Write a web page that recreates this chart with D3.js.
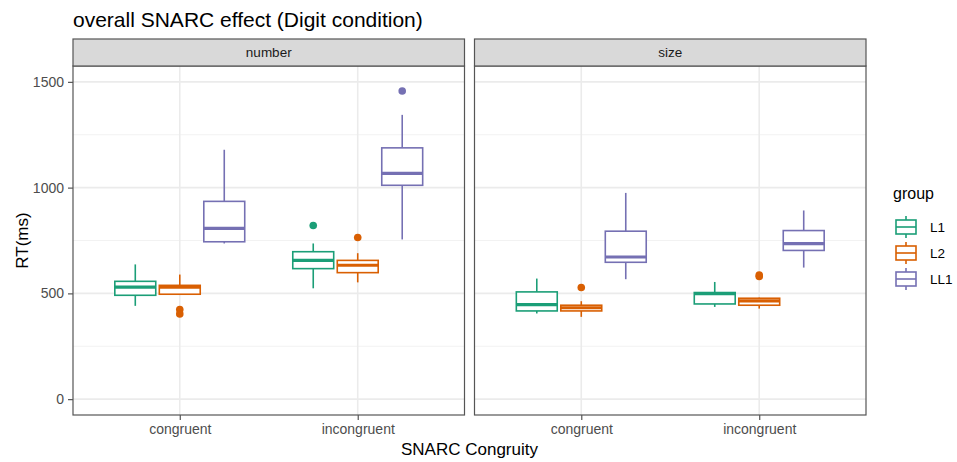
<!DOCTYPE html>
<html lang="en">
<head>
  <meta charset="UTF-8">
  <title>overall SNARC effect (Digit condition)</title>
  <style>
    body { margin: 0; background: #fff; }
    text { font-family: "Liberation Sans", Arial, sans-serif; }
  </style>
</head>
<body>
  <svg id="svg" width="957" height="462"></svg>

  <script src="https://d3js.org/d3.v7.min.js"></script>
  <script>
    // facets, x categories and colour groups
    const facets = ['number', 'size']
    const congruity = ['congruent', 'incongruent']
    const groups = ['L1', 'L2', 'LL1']
    const yTicks = [0, 500, 1000, 1500]
    const yMinor = [250, 750, 1250]

    // box stats per congruity: [lower whisker, q1, median, q3, upper whisker]
    const numberL1 = [[441, 491, 530, 557, 637], [524, 617, 656, 697, 736]]
    const numberL2 = [[493, 496, 530, 538, 589], [552, 598, 633, 656, 690]]
    const numberLL1 = [[736, 744, 807, 935, 1179], [755, 1011, 1067, 1188, 1344]]
    const sizeL1 = [[405, 417, 447, 507, 570], [436, 450, 499, 504, 554]]
    const sizeL2 = [[389, 417, 432, 444, 463], [428, 444, 465, 477, 480]]
    const sizeLL1 = [[567, 647, 672, 794, 975], [622, 703, 735, 797, 892]]

    // outliers per congruity
    const numberL1Out = [[], [821]]
    const numberL2Out = [[424, 403], [764]]
    const numberLL1Out = [[], [1457]]
    const sizeL1Out = [[], []]
    const sizeL2Out = [[528], [580, 587]]
    const sizeLL1Out = [[], []]

    const colors = ['#1B9E77', '#D95F02', '#7570B3']

    const stats = {
      number: { L1: [numberL1, numberL1Out], L2: [numberL2, numberL2Out], LL1: [numberLL1, numberLL1Out] },
      size: { L1: [sizeL1, sizeL1Out], L2: [sizeL2, sizeL2Out], LL1: [sizeLL1, sizeLL1Out] }
    }

    const svg = d3.select('#svg')

    const panels = [[73, 464.5], [474.5, 866]]
    const panelTop = 66, panelBottom = 415
    const stripTop = 39

    const yscale = d3.scaleLinear().domain([-75, 1575]).range([panelBottom, panelTop])
    const color = d3.scaleOrdinal().domain(groups).range(colors)

    // title
    svg.append('text')
      .attr('x', 73).attr('y', 27)
      .attr('font-size', 21).attr('fill', '#000')
      .text('overall SNARC effect (Digit condition)')

    facets.forEach((facet, fi) => {
      const [x0, x1] = panels[fi]
      const xscale = d3.scalePoint().domain(congruity).range([x0, x1]).padding(0.6)
      const step = xscale.step()
      const dodge = d3.scaleBand().domain(groups).range([-0.375 * step, 0.375 * step])
      const bw = dodge.bandwidth() * 0.92

      const g = svg.append('g')

      // panel background + grid
      g.append('rect').attr('x', x0).attr('y', panelTop).attr('width', x1 - x0).attr('height', panelBottom - panelTop)
        .attr('fill', '#fff')
      g.selectAll('.minor').data(yMinor).enter().append('line')
        .attr('x1', x0).attr('x2', x1)
        .attr('y1', d => yscale(d)).attr('y2', d => yscale(d))
        .attr('stroke', '#F2F2F2').attr('stroke-width', 1)
      g.selectAll('.major').data(yTicks).enter().append('line')
        .attr('x1', x0).attr('x2', x1)
        .attr('y1', d => yscale(d)).attr('y2', d => yscale(d))
        .attr('stroke', '#EBEBEB').attr('stroke-width', 1.6)
      g.selectAll('.vmajor').data(congruity).enter().append('line')
        .attr('x1', d => xscale(d)).attr('x2', d => xscale(d))
        .attr('y1', panelTop).attr('y2', panelBottom)
        .attr('stroke', '#EBEBEB').attr('stroke-width', 1.6)

      // boxes
      groups.forEach(grp => {
        const [boxes, outs] = stats[facet][grp]
        const c = color(grp)
        congruity.forEach((cat, ci) => {
          const [lo, q1, med, q3, hi] = boxes[ci]
          const cx = xscale(cat) + dodge(grp) + dodge.bandwidth() / 2
          const bg = g.append('g')
          bg.append('line').attr('x1', cx).attr('x2', cx)
            .attr('y1', yscale(hi)).attr('y2', yscale(q3))
            .attr('stroke', c).attr('stroke-width', 1.6)
          bg.append('line').attr('x1', cx).attr('x2', cx)
            .attr('y1', yscale(q1)).attr('y2', yscale(lo))
            .attr('stroke', c).attr('stroke-width', 1.6)
          bg.append('rect')
            .attr('x', cx - bw / 2).attr('y', yscale(q3))
            .attr('width', bw).attr('height', yscale(q1) - yscale(q3))
            .attr('fill', '#fff').attr('stroke', c).attr('stroke-width', 1.6)
          bg.append('line').attr('x1', cx - bw / 2).attr('x2', cx + bw / 2)
            .attr('y1', yscale(med)).attr('y2', yscale(med))
            .attr('stroke', c).attr('stroke-width', 3.2)
          bg.selectAll('circle').data(outs[ci]).enter().append('circle')
            .attr('cx', cx).attr('cy', d => yscale(d)).attr('r', 3.8)
            .attr('fill', c)
        })
      })

      // panel border
      g.append('rect').attr('x', x0).attr('y', panelTop).attr('width', x1 - x0).attr('height', panelBottom - panelTop)
        .attr('fill', 'none').attr('stroke', '#555').attr('stroke-width', 1.2)

      // strip
      g.append('rect').attr('x', x0).attr('y', stripTop).attr('width', x1 - x0).attr('height', panelTop - stripTop)
        .attr('fill', '#D9D9D9').attr('stroke', '#555').attr('stroke-width', 1.2)
      g.append('text').attr('x', (x0 + x1) / 2).attr('y', 57)
        .attr('text-anchor', 'middle').attr('font-size', 13.5).attr('fill', '#1A1A1A')
        .text(facet)

      // bottom axis
      const bottomAxis = d3.axisBottom(xscale).tickSize(5).tickPadding(4)
      const ax = svg.append('g').attr('transform', `translate(0, ${panelBottom})`).call(bottomAxis)
      ax.select('.domain').remove()
      ax.selectAll('line').attr('stroke', '#555').attr('stroke-width', 1.2)
      ax.selectAll('text').attr('font-size', 14).attr('fill', '#4D4D4D')
        .attr('font-family', '"Liberation Sans", Arial, sans-serif')
    })

    // left axis
    const leftAxis = d3.axisLeft(yscale).tickValues(yTicks).tickFormat(d3.format('d')).tickSize(5).tickPadding(4)
    const ay = svg.append('g').attr('transform', `translate(${panels[0][0]}, 0)`).call(leftAxis)
    ay.select('.domain').remove()
    ay.selectAll('line').attr('stroke', '#555').attr('stroke-width', 1.2)
    ay.selectAll('text').attr('font-size', 14).attr('fill', '#4D4D4D')
      .attr('font-family', '"Liberation Sans", Arial, sans-serif')

    // axis titles
    svg.append('text')
      .attr('transform', `translate(28, ${(panelTop + panelBottom) / 2}) rotate(-90)`)
      .attr('text-anchor', 'middle').attr('font-size', 17).attr('fill', '#000')
      .text('RT(ms)')
    svg.append('text')
      .attr('x', (panels[0][0] + panels[1][1]) / 2).attr('y', 455)
      .attr('text-anchor', 'middle').attr('font-size', 17).attr('fill', '#000')
      .text('SNARC Congruity')

    // legend
    const legend = svg.append('g')
    legend.append('text').attr('x', 893).attr('y', 199)
      .attr('font-size', 16).attr('fill', '#000').text('group')
    groups.forEach((grp, i) => {
      const cy = 227 + i * 26
      const c = color(grp)
      const kx = 906
      legend.append('line').attr('x1', kx).attr('x2', kx).attr('y1', cy - 11).attr('y2', cy + 11)
        .attr('stroke', c).attr('stroke-width', 1.6)
      legend.append('rect').attr('x', kx - 10).attr('y', cy - 7).attr('width', 20).attr('height', 14)
        .attr('fill', '#fff').attr('stroke', c).attr('stroke-width', 1.6)
      legend.append('line').attr('x1', kx - 10).attr('x2', kx + 10).attr('y1', cy).attr('y2', cy)
        .attr('stroke', c).attr('stroke-width', 1.6)
      legend.append('text').attr('x', 930).attr('y', cy + 5)
        .attr('font-size', 13.5).attr('fill', '#000').text(grp)
    })
  </script>
</body>
</html>
